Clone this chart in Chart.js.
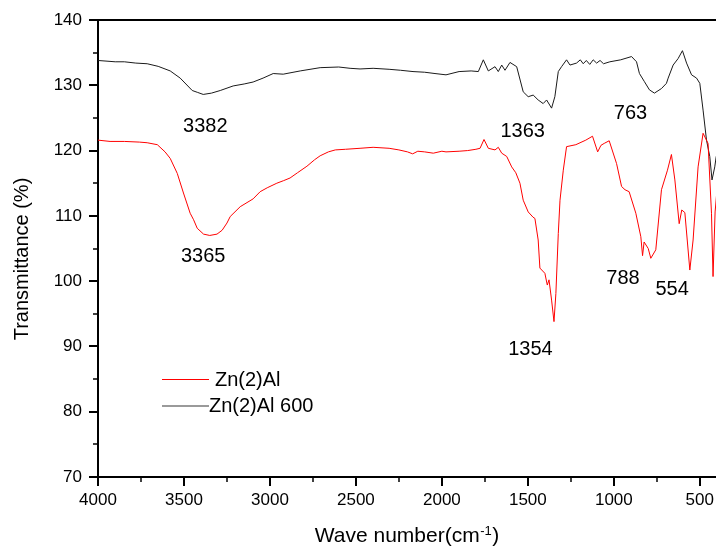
<!DOCTYPE html>
<html><head><meta charset="utf-8">
<script src="https://cdn.jsdelivr.net/npm/chart.js@4.4.1/dist/chart.umd.min.js"></script>
<style>
html,body{margin:0;padding:0;overflow:hidden;background:#fff;width:716px;height:547px}
#wrap{width:720px;height:547px}
</style></head>
<body><div id="wrap"><canvas id="c" width="720" height="547"></canvas></div>
<script>
const seriesNames = ['Zn(2)Al', 'Zn(2)Al 600'];

const waveRed = [4000,3930,3847,3760,3714,3655,3610,3580,3539,3503,3464,3444,3423,3386,3350,3308,3278,3250,3231,3173,3098,3057,3016,2960,2920,2883,2840,2785,2740,2708,2660,2620,2560,2476,2400,2307,2250,2200,2170,2140,2100,2050,2000,1976,1900,1850,1802,1778,1755,1730,1691,1672,1652,1623,1594,1570,1546,1527,1498,1470,1459,1440,1430,1401,1387,1377,1362,1348,1337,1323,1313,1294,1275,1221,1163,1124,1094,1075,1056,1027,984,955,935,911,872,843,833,824,800,785,756,723,688,665,645,620,605,587,558,539,510,481,452,432,423,411,400];
const transRed = [121.6,121.4,121.4,121.3,121.2,120.9,119.8,118.8,116.5,113.5,110.4,109.4,108.1,107.2,107.0,107.2,107.8,108.9,109.9,111.4,112.6,113.7,114.3,115.0,115.4,115.8,116.6,117.6,118.6,119.2,119.8,120.1,120.2,120.35,120.5,120.35,120.1,119.8,119.5,119.9,119.8,119.6,119.9,119.8,119.9,120.0,120.2,120.35,121.7,120.35,120.1,120.5,119.6,119.1,117.5,116.6,115.0,112.4,110.6,109.8,109.6,106.3,102.0,101.2,99.4,100.2,97.1,93.8,98.1,107.3,112.4,117.0,120.6,120.9,121.6,122.2,119.8,120.8,121.1,121.5,118.0,114.5,114.0,113.7,110.4,106.8,103.9,106.0,105.0,103.5,104.8,114.0,117.0,119.4,115.5,108.8,110.9,110.5,101.7,106.3,117.5,122.65,121.1,110.4,100.7,110.6,114.0];

const waveBlack = [4000,3900,3847,3780,3714,3650,3580,3522,3452,3420,3388,3340,3289,3214,3150,3098,3040,2981,2923,2824,2708,2600,2534,2476,2400,2307,2240,2168,2100,2040,1976,1900,1830,1788,1759,1730,1691,1672,1652,1633,1604,1565,1527,1498,1469,1440,1411,1391,1362,1343,1323,1304,1275,1255,1217,1195,1178,1160,1140,1120,1100,1080,1060,1023,960,897,868,851,822,793,764,723,694,684,655,626,601,577,548,519,500,481,461,442,429,413,405,400];
const transBlack = [133.8,133.6,133.6,133.4,133.3,132.9,132.2,131.1,129.2,128.9,128.6,128.8,129.2,129.9,130.2,130.5,131.1,131.8,131.7,132.2,132.7,132.8,132.6,132.5,132.6,132.45,132.3,132.1,132.0,131.8,131.6,132.1,132.2,132.1,133.9,132.2,132.85,132.1,133.1,132.3,133.5,132.85,129.0,128.25,128.5,127.75,127.2,127.75,126.5,128.25,132.1,132.85,133.9,133.1,133.4,133.9,133.3,133.8,133.2,133.9,133.4,133.8,133.3,133.6,133.9,134.4,133.6,131.8,130.55,129.3,128.8,129.5,130.3,131.1,133.1,134.1,135.3,133.4,131.6,131.1,130.3,126.2,121.6,119.1,115.5,117.5,119.0,119.5];

const xTickValues = [4000,3500,3000,2500,2000,1500,1000,500];
const xMinorTicks = [3750,3250,2750,2250,1750,1250,750];
const yTickValues = [70,80,90,100,110,120,130,140];
const yMinorTicks = [75,85,95,105,115,125,135];

const peakLabels = ['3382','3365','1363','763','1354','788','554'];
const peakLabelX = [3376,3388,1530,903,1485,947,661];
const peakLabelY = [123.96,104.05,123.15,125.88,89.79,100.68,99.03];

const FONT = '"Liberation Sans", Arial, sans-serif';
const toPts = (xs, ys) => xs.map((x, i) => ({x: x, y: ys[i]}));

const overlay = {
  id: 'overlay',
  afterDraw(chart) {
    const ctx = chart.ctx, a = chart.chartArea, xs = chart.scales.x, ys = chart.scales.y;
    ctx.save();
    ctx.strokeStyle = '#000';
    ctx.lineWidth = 2;
    ctx.beginPath(); ctx.moveTo(a.left - 1, a.top); ctx.lineTo(a.right + 3, a.top); ctx.stroke();
    ctx.lineWidth = 1.5;
    xMinorTicks.forEach(v => {
      const px = Math.round(xs.getPixelForValue(v));
      ctx.beginPath(); ctx.moveTo(px, a.bottom); ctx.lineTo(px, a.bottom + 5); ctx.stroke();
    });
    yMinorTicks.forEach(v => {
      const py = Math.round(ys.getPixelForValue(v));
      ctx.beginPath(); ctx.moveTo(a.left, py); ctx.lineTo(a.left - 5, py); ctx.stroke();
    });
    // peak annotations
    ctx.fillStyle = '#000';
    ctx.font = '20px ' + FONT;
    ctx.textAlign = 'center';
    ctx.textBaseline = 'alphabetic';
    peakLabels.forEach((t, i) => {
      ctx.fillText(t, xs.getPixelForValue(peakLabelX[i]), ys.getPixelForValue(peakLabelY[i]) + 7.2);
    });
    // legend
    const ds = chart.data.datasets;
    ctx.textAlign = 'left';
    ctx.textBaseline = 'middle';
    ctx.lineWidth = 1;
    ctx.strokeStyle = ds[0].borderColor;
    ctx.beginPath(); ctx.moveTo(162, 379.5); ctx.lineTo(209, 379.5); ctx.stroke();
    ctx.fillText(ds[0].label, 215, 380);
    ctx.lineWidth = 2;
    ctx.strokeStyle = '#9a9a9a';
    ctx.beginPath(); ctx.moveTo(162, 406); ctx.lineTo(209, 406); ctx.stroke();
    ctx.fillText(ds[1].label, 209, 406.5);
    // y title
    ctx.save();
    ctx.translate(22, 259);
    ctx.rotate(-Math.PI / 2);
    ctx.textAlign = 'center';
    ctx.textBaseline = 'middle';
    ctx.font = '20px ' + FONT;
    ctx.fillText('Transmittance (%)', 0, 0);
    ctx.restore();
    // x title with superscript
    const main = 'Wave number(cm', sup = '-1', end = ')';
    ctx.textBaseline = 'alphabetic';
    ctx.textAlign = 'left';
    ctx.font = '21px ' + FONT;
    const w1 = ctx.measureText(main).width, w3 = ctx.measureText(end).width;
    ctx.font = '13px ' + FONT;
    const w2 = ctx.measureText(sup).width;
    let sx = 406.5 - (w1 + w2 + w3) / 2;
    ctx.font = '21px ' + FONT;
    ctx.fillText(main, sx, 541.5);
    ctx.font = '13px ' + FONT;
    ctx.fillText(sup, sx + w1 + 0.5, 535);
    ctx.font = '21px ' + FONT;
    ctx.fillText(end, sx + w1 + w2 + 1, 541.5);
    ctx.restore();
  }
};

const gridCfg = {display: true, drawOnChartArea: false, drawTicks: true, tickLength: 9, tickColor: '#000', lineWidth: 2, color: '#000'};
const borderCfg = {display: true, color: '#000', width: 2};

new Chart(document.getElementById('c'), {
  type: 'line',
  data: {
    datasets: [
      {label: seriesNames[0], data: toPts(waveRed, transRed), borderColor: '#ff0000', borderWidth: 1, pointRadius: 0, tension: 0, fill: false},
      {label: seriesNames[1], data: toPts(waveBlack, transBlack), borderColor: '#1a1a1a', borderWidth: 1, pointRadius: 0, tension: 0, fill: false}
    ]
  },
  options: {
    responsive: false,
    animation: false,
    devicePixelRatio: 1,
    layout: {padding: {left: 0, top: 20, right: 3, bottom: 0}},
    plugins: {legend: {display: false}, tooltip: {enabled: false}, title: {display: false}},
    elements: {line: {borderJoinStyle: 'round'}},
    scales: {
      x: {
        type: 'linear', reverse: true, min: 400, max: 4000,
        afterBuildTicks: s => { s.ticks = xTickValues.map(v => ({value: v})); },
        afterFit: s => { s.height = 70; s.paddingLeft = 0; s.paddingRight = 0; },
        ticks: {color: '#000', font: {family: FONT, size: 17}, padding: 4, maxRotation: 0, autoSkip: false, callback: v => String(v)},
        grid: gridCfg, border: borderCfg, title: {display: false}
      },
      y: {
        type: 'linear', min: 70, max: 140,
        afterBuildTicks: s => { s.ticks = yTickValues.map(v => ({value: v})); },
        afterFit: s => { s.width = 98; s.paddingTop = 0; s.paddingBottom = 0; },
        ticks: {color: '#000', font: {family: FONT, size: 17}, padding: 7, callback: v => String(v)},
        grid: gridCfg, border: borderCfg, title: {display: false}
      }
    }
  },
  plugins: [overlay]
});
</script>
</body></html>
